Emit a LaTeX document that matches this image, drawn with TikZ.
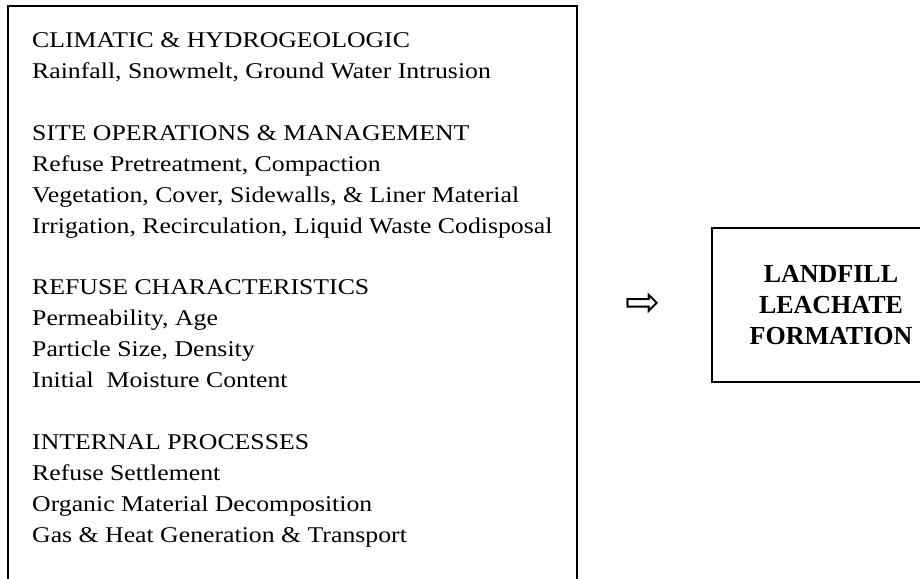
\documentclass[tikz,border=0pt]{standalone}
\usepackage{fontspec}
\setmainfont{Liberation Serif}
\newfontfamily\widefont[FakeStretch=1.145]{Liberation Serif}
\newfontfamily\symfont{DejaVu Sans}
\usetikzlibrary{positioning}
\tikzset{
  frame/.style={draw,line width=2.2pt},
  factors/.style={anchor=north west,inner sep=0pt,align=left,font=\widefont\fontsize{22.5}{30.9}\selectfont},
  result/.style={frame,inner sep=0pt,align=center,minimum width=238pt,minimum height=154pt,font=\fontsize{26}{31}\selectfont\bfseries}
}

\begin{document}
\begin{tikzpicture}[x=1pt,y=-1pt]
\clip (0,0) rectangle (920,578);
\node[factors] (list) at (32,32.5) {CLIMATIC \& HYDROGEOLOGIC\\
  Rainfall, Snowmelt, Ground Water Intrusion\\[30.9pt]
  SITE OPERATIONS \& MANAGEMENT\\
  Refuse Pretreatment, Compaction\\
  Vegetation, Cover, Sidewalls, \& Liner Material\\
  Irrigation, Recirculation, Liquid Waste Codisposal\\[30.9pt]
  REFUSE CHARACTERISTICS\\
  Permeability, Age\\
  Particle Size, Density\\
  Initial\ \ Moisture Content\\[30.9pt]
  INTERNAL PROCESSES\\
  Refuse Settlement\\
  Organic Material Decomposition\\
  Gas \& Heat Generation \& Transport};
\draw[frame] ([shift={(-24pt,26.5pt)}]list.north west) rectangle ([shift={(545pt,-40pt)}]list.south west);
\node[result] (leachate) at (831,305) {LANDFILL\\LEACHATE\\FORMATION};
\node[left=50pt of leachate,inner sep=0pt,font=\symfont\fontsize{42}{42}\selectfont] (arrow) {⇨};
\end{tikzpicture}
\end{document}
